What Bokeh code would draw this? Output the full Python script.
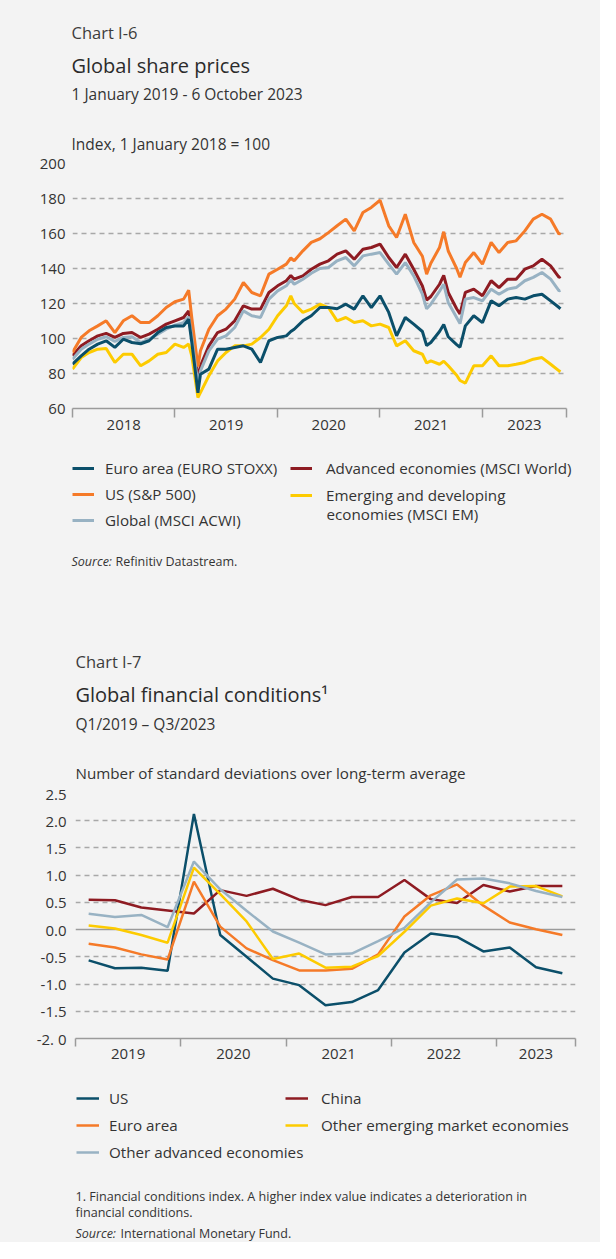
import pandas as pd
from bokeh.plotting import figure
from bokeh.models import Range1d, FixedTicker, Label, Legend, LegendItem, Grid
from bokeh.layouts import column
from bokeh.embed import file_html
from bokeh.resources import INLINE

FONT = "Open Sans"
BG = "#f3f3f3"
TXT = "#333333"
AXC = "#9b9b9b"
GRIDC = "#a8a8a8"

C_TEAL = "#0b4f6a"
C_ORANGE = "#f57a28"
C_RED = "#8e1b22"
C_GRAY = "#98b2c3"
C_YELLOW = "#fdcb00"

W = 600

# ---------------- Chart I-6 data (index, 1 Jan 2018 = 100) ----------------
dates = [
    "2019-01-01", "2019-02-01", "2019-03-01", "2019-04-01", "2019-05-01", "2019-06-01",
    "2019-07-01", "2019-08-01", "2019-09-01", "2019-10-01", "2019-11-01", "2019-12-01",
    "2020-01-01", "2020-02-01", "2020-02-19", "2020-03-01", "2020-03-23", "2020-04-01",
    "2020-05-01", "2020-06-01", "2020-07-01", "2020-08-01", "2020-09-01", "2020-10-01",
    "2020-11-01", "2020-12-01", "2021-01-01", "2021-02-01", "2021-02-17", "2021-03-01",
    "2021-04-01", "2021-05-01", "2021-06-01", "2021-07-01", "2021-08-01", "2021-09-01",
    "2021-10-01", "2021-11-01", "2021-12-01", "2022-01-01", "2022-02-01", "2022-03-01",
    "2022-04-01", "2022-05-01", "2022-06-01", "2022-06-16", "2022-07-01", "2022-08-01",
    "2022-08-16", "2022-09-01", "2022-10-01", "2022-10-13", "2022-11-01", "2022-12-01",
    "2023-01-01", "2023-02-01", "2023-03-01", "2023-04-01", "2023-05-01", "2023-06-01",
    "2023-07-01", "2023-08-01", "2023-09-01", "2023-10-01", "2023-10-06",
]
us_sp500 = [
    92.0, 100.6, 104.4, 107.2, 110.1, 103.4, 110.1, 113.0, 109.1, 109.1, 113.0, 117.7,
    121.0, 122.5, 127.6, 112.0, 84.0, 93.0, 105.3, 113.0, 116.8, 122.5, 132.0, 126.3,
    124.4, 136.8, 139.6, 142.5, 146.0, 144.4, 150.1, 154.9, 157.0, 160.5, 164.4, 168.2,
    161.5, 172.0, 174.9, 179.0, 164.4, 157.7, 171.0, 154.9, 147.0, 136.8, 143.0, 152.0,
    161.0, 150.0, 140.0, 135.0, 143.4, 149.1, 142.5, 154.9, 149.1, 154.9, 155.8, 161.5,
    168.2, 171.0, 168.2, 159.6, 160.5,
]
adv_world = [
    90.1, 95.8, 98.7, 101.5, 102.9, 100.6, 102.9, 103.4, 100.6, 102.5, 105.3, 108.2,
    110.1, 112.0, 115.8, 104.0, 77.0, 84.4, 95.8, 103.4, 105.3, 110.1, 118.7, 116.8,
    116.8, 126.3, 130.1, 133.0, 136.0, 133.9, 135.8, 139.6, 142.5, 144.4, 148.2, 150.1,
    145.3, 151.0, 152.0, 153.9, 146.3, 140.6, 148.2, 139.6, 130.0, 122.0, 124.0, 131.0,
    136.0, 126.3, 117.0, 114.0, 126.3, 128.2, 124.4, 133.0, 129.1, 133.9, 133.9, 139.6,
    141.5, 145.3, 141.5, 134.9, 135.5,
]
global_acwi = [
    88.2, 93.9, 96.8, 99.6, 101.0, 98.3, 100.6, 101.0, 97.7, 99.6, 102.5, 105.3,
    107.6, 109.1, 112.4, 101.0, 73.5, 81.5, 92.9, 99.6, 101.5, 106.3, 115.8, 113.0,
    112.0, 122.5, 127.2, 130.1, 133.5, 131.0, 133.9, 137.3, 140.0, 140.6, 144.4, 146.3,
    141.5, 147.2, 148.2, 149.1, 142.5, 136.8, 143.4, 135.8, 125.3, 117.0, 119.6, 127.0,
    131.0, 120.6, 112.0, 108.5, 122.5, 123.4, 121.5, 128.2, 125.3, 128.2, 129.1, 133.0,
    134.9, 137.7, 133.9, 127.2, 127.5,
]
euro_stoxx = [
    85.3, 90.1, 93.9, 96.8, 98.7, 94.9, 99.6, 97.7, 97.0, 98.7, 103.4, 106.3,
    107.2, 107.2, 111.0, 98.0, 69.0, 79.6, 82.5, 93.9, 93.9, 94.9, 95.8, 93.9,
    86.3, 98.7, 100.6, 101.5, 104.0, 105.3, 110.1, 113.0, 117.7, 117.7, 117.0, 119.6,
    116.8, 124.4, 117.7, 124.4, 114.9, 101.5, 112.0, 108.2, 104.0, 96.0, 97.7, 104.0,
    108.0, 101.0, 96.5, 95.0, 107.2, 113.0, 109.1, 121.5, 118.7, 122.5, 123.4, 122.5,
    124.4, 125.3, 121.5, 117.7, 117.0,
]
emerging_em = [
    82.5, 89.1, 92.0, 93.9, 94.3, 86.3, 91.0, 91.0, 84.4, 87.2, 91.0, 92.0,
    96.8, 94.9, 96.8, 90.1, 66.3, 69.1, 78.7, 87.2, 92.0, 95.8, 95.8, 96.8,
    100.6, 105.3, 113.0, 118.7, 124.4, 120.0, 114.9, 116.8, 119.6, 117.7, 110.1, 112.0,
    109.1, 110.1, 107.2, 108.2, 106.3, 95.8, 98.7, 93.0, 91.0, 86.0, 87.2, 85.3,
    87.0, 84.4, 79.0, 76.0, 74.5, 84.4, 84.4, 90.1, 84.4, 84.4, 85.3, 86.3,
    88.2, 89.1, 85.3, 81.5, 81.0,
]
year_labels_1 = ["2018", "2019", "2020", "2021", "2023"]
year_bounds_1 = [0.0, 1.0, 2.0, 3.0, 4.0, 4.82]   # years since 1 January 2019
y_ticks_1 = [60, 80, 100, 120, 140, 160, 180, 200]

# ---------------- Chart I-7 data (standard deviations) ----------------
quarters = [
    "Q1 2019", "Q2 2019", "Q3 2019", "Q4 2019", "Q1 2020", "Q2 2020", "Q3 2020", "Q4 2020",
    "Q1 2021", "Q2 2021", "Q3 2021", "Q4 2021", "Q1 2022", "Q2 2022", "Q3 2022", "Q4 2022",
    "Q1 2023", "Q2 2023", "Q3 2023",
]
fci_us = [-0.565, -0.71, -0.70, -0.755, 2.125, -0.10, -0.50, -0.90, -1.02, -1.39,
          -1.33, -1.11, -0.42, -0.07, -0.135, -0.40, -0.33, -0.69, -0.80]
fci_euro = [-0.26, -0.33, -0.455, -0.55, 0.88, 0.055, -0.345, -0.56, -0.75, -0.75,
            -0.72, -0.455, 0.24, 0.63, 0.83, 0.44, 0.13, 0.006, -0.10]
fci_other_adv = [0.29, 0.23, 0.27, 0.045, 1.25, 0.74, 0.345, -0.035, -0.24, -0.455,
                 -0.44, -0.21, 0.03, 0.50, 0.92, 0.94, 0.85, 0.71, 0.60]
fci_china = [0.55, 0.54, 0.405, 0.35, 0.295, 0.725, 0.62, 0.75, 0.55, 0.45,
             0.60, 0.60, 0.91, 0.56, 0.49, 0.82, 0.70, 0.80, 0.80]
fci_other_em = [0.075, 0.02, -0.10, -0.24, 1.14, 0.65, 0.15, -0.54, -0.44, -0.70,
                -0.68, -0.485, -0.04, 0.44, 0.57, 0.485, 0.79, 0.80, 0.61]
year_labels_2 = ["2019", "2020", "2021", "2022", "2023"]
year_bounds_2 = [0, 4, 8, 12, 16, 19]   # quarter boundaries
y_ticks_2 = [-2.0, -1.5, -1.0, -0.5, 0.0, 0.5, 1.0, 1.5, 2.0, 2.5]
y_labels_2 = ["-2. 0", "-1.5", "-1.0", "-0.5", "0.0", "0.5", "1.0", "1.5", "2.0", "2.5"]


# ---------------- helpers ----------------
def text_panel(h):
    """A figure whose frame is the whole canvas; y measured downward in px."""
    f = figure(width=W, height=h, x_range=Range1d(0, W), y_range=Range1d(h, 0),
               x_axis_location=None, y_axis_location=None,
               output_backend="svg", toolbar_location=None, frame_align=False,
               min_border_left=0, min_border_right=0, min_border_top=0, min_border_bottom=0,
               background_fill_color=BG, border_fill_color=BG)
    f.grid.visible = False
    f.outline_line_color = None
    return f


def add_text(f, text, x, y, size, color=TXT, style="normal"):
    f.add_layout(Label(x=x, y=y, text=text, text_font=FONT, text_font_size=f"{size}px",
                       text_color=color, text_font_style=style,
                       text_align="left", text_baseline="middle"))


def make_legend(items, loc, glyph_w, standoff, spacing):
    return Legend(items=items, location=loc, orientation="vertical",
                  glyph_width=glyph_w, glyph_height=20, label_height=20,
                  label_standoff=standoff, spacing=spacing, padding=0, margin=0,
                  label_text_font=FONT, label_text_font_size="15.2px", label_text_color=TXT,
                  background_fill_alpha=0, border_line_alpha=0)


def key(f, color, width):
    # legend key renderer: a single point, so nothing is drawn in the panel itself
    return f.line([-50], [-50], line_color=color, line_width=width)


def style_axes(p, mids, labels, bounds, tick_len, standoff_x, yticks, ylabels, standoff_y):
    xa = p.xaxis[0]
    xa.ticker = FixedTicker(ticks=mids, minor_ticks=bounds)
    xa.major_label_overrides = {m: l for m, l in zip(mids, labels)}
    xa.major_tick_in = 0
    xa.major_tick_out = 0
    xa.minor_tick_in = 0
    xa.minor_tick_out = tick_len
    xa.minor_tick_line_color = AXC
    xa.minor_tick_line_width = 1.5
    xa.axis_line_color = AXC
    xa.axis_line_width = 1.5
    xa.major_label_text_font = FONT
    xa.major_label_text_font_size = "15px"
    xa.major_label_text_color = TXT
    xa.major_label_standoff = standoff_x
    ya = p.yaxis[0]
    ya.ticker = FixedTicker(ticks=yticks)
    ya.major_label_overrides = {v: l for v, l in zip(yticks, ylabels)}
    ya.axis_line_color = None
    ya.major_tick_line_color = None
    ya.minor_tick_line_color = None
    ya.major_tick_in = 0
    ya.major_tick_out = 0
    ya.major_label_text_font = FONT
    ya.major_label_text_font_size = "15px"
    ya.major_label_text_color = TXT
    ya.major_label_standoff = standoff_y
    p.xgrid.visible = False
    p.outline_line_color = None


def unit_title(p, text, offset, standoff, size):
    t = p.title
    t.text = text
    t.align = "left"
    t.offset = offset
    t.standoff = standoff
    t.text_font = FONT
    t.text_font_size = f"{size}px"
    t.text_font_style = "normal"
    t.text_color = TXT


# ======================= Chart I-6 =======================
h1 = text_panel(115)
add_text(h1, "Chart I-6", 71, 32, 16.5, "#3c3c3c")
add_text(h1, "Global share prices", 71, 65, 20, "#2b2b2b")
add_text(h1, "1 January 2019 - 6 October 2023", 71, 93, 15.5)

t_years = [(pd.Timestamp(d) - pd.Timestamp("2019-01-01")).days / 365.25 for d in dates]
mids1 = [round((a + b) / 2, 3) for a, b in zip(year_bounds_1[:-1], year_bounds_1[1:])]

p1 = figure(width=W, height=327, x_range=Range1d(year_bounds_1[0], year_bounds_1[-1]),
            y_range=Range1d(y_ticks_1[0], y_ticks_1[-1]),
            output_backend="svg", toolbar_location=None, frame_align=False,
            min_border_left=72, min_border_right=34, min_border_top=48, min_border_bottom=34,
            background_fill_color=BG, border_fill_color=BG)
unit_title(p1, "Index, 1 January 2018 = 100", -1, 17, 15.5)
style_axes(p1, mids1, year_labels_1, year_bounds_1, 9, 2,
           y_ticks_1, [str(v) for v in y_ticks_1], 7)
p1.ygrid.ticker = FixedTicker(ticks=y_ticks_1[1:])
p1.ygrid.grid_line_color = GRIDC
p1.ygrid.grid_line_dash = "5 4"
p1.ygrid.grid_line_width = 1.3

p1.line(t_years, adv_world, line_color=C_RED, line_width=3)
p1.line(t_years, us_sp500, line_color=C_ORANGE, line_width=3)
p1.line(t_years, global_acwi, line_color=C_GRAY, line_width=3)
p1.line(t_years, emerging_em, line_color=C_YELLOW, line_width=3)
p1.line(t_years, euro_stoxx, line_color=C_TEAL, line_width=3)

f1 = text_panel(170)
k_eu = key(f1, C_TEAL, 3)
k_us = key(f1, C_ORANGE, 3)
k_gl = key(f1, C_GRAY, 3)
k_adv = key(f1, C_RED, 3)
k_em = key(f1, C_YELLOW, 3)
f1.add_layout(make_legend([LegendItem(label="Euro area (EURO STOXX)", renderers=[k_eu]),
                           LegendItem(label="US (S&P 500)", renderers=[k_us]),
                           LegendItem(label="Global (MSCI ACWI)", renderers=[k_gl])],
                          (72, 82), 22, 11, 6), "center")
f1.add_layout(make_legend([LegendItem(label="Advanced economies (MSCI World)", renderers=[k_adv]),
                           LegendItem(label="Emerging and developing", renderers=[k_em])],
                          (290, 107), 22, 14, 7), "center")
add_text(f1, "economies (MSCI EM)", 326, 71, 15.2)
add_text(f1, "Source:", 71, 119, 12.5, style="italic")
add_text(f1, "Refinitiv Datastream.", 115, 119, 12.5)

# ======================= Chart I-7 =======================
h2 = text_panel(129)
add_text(h2, "Chart I-7", 75, 49, 16.5, "#3c3c3c")
add_text(h2, "Global financial conditions\u00b9", 75, 82, 20, "#2b2b2b")
add_text(h2, "Q1/2019 \u2013 Q3/2023", 75, 111, 15.5)

xq = [i + 0.5 for i in range(len(quarters))]
mids2 = [(a + b) / 2 for a, b in zip(year_bounds_2[:-1], year_bounds_2[1:])]

p2 = figure(width=W, height=331, x_range=Range1d(year_bounds_2[0], year_bounds_2[-1]),
            y_range=Range1d(y_ticks_2[0], y_ticks_2[-1]),
            output_backend="svg", toolbar_location=None, frame_align=False,
            min_border_left=75, min_border_right=25, min_border_top=52, min_border_bottom=34,
            background_fill_color=BG, border_fill_color=BG)
unit_title(p2, "Number of standard deviations over long-term average", 0, 22, 15.2)
style_axes(p2, mids2, year_labels_2, year_bounds_2, 8, 2, y_ticks_2, y_labels_2, 9)
p2.ygrid.ticker = FixedTicker(ticks=[v for v in y_ticks_2 if v not in (0.0, -2.0)])
p2.ygrid.grid_line_color = GRIDC
p2.ygrid.grid_line_dash = "5 4"
p2.ygrid.grid_line_width = 1.3
p2.add_layout(Grid(dimension=1, ticker=FixedTicker(ticks=[0.0]), grid_line_color=AXC,
                   grid_line_width=1.5))

p2.line(xq, fci_us, line_color=C_TEAL, line_width=2.5)
p2.line(xq, fci_china, line_color=C_RED, line_width=2.5)
p2.line(xq, fci_euro, line_color=C_ORANGE, line_width=2.5)
p2.line(xq, fci_other_em, line_color=C_YELLOW, line_width=2.5)
p2.line(xq, fci_other_adv, line_color=C_GRAY, line_width=2.5)

f2 = text_panel(170)
j_us = key(f2, C_TEAL, 2.5)
j_eu = key(f2, C_ORANGE, 2.5)
j_oa = key(f2, C_GRAY, 2.5)
j_cn = key(f2, C_RED, 2.5)
j_em = key(f2, C_YELLOW, 2.5)
f2.add_layout(make_legend([LegendItem(label="US", renderers=[j_us]),
                           LegendItem(label="Euro area", renderers=[j_eu]),
                           LegendItem(label="Other advanced economies", renderers=[j_oa])],
                          (76, 80), 23, 10, 7), "center")
f2.add_layout(make_legend([LegendItem(label="China", renderers=[j_cn]),
                           LegendItem(label="Other emerging market economies", renderers=[j_em])],
                          (285, 107), 23, 13, 7), "center")
add_text(f2, "1. Financial conditions index. A higher index value indicates a deterioration in",
         75, 124, 12.6)
add_text(f2, "financial conditions.", 75, 140, 12.6)
add_text(f2, "Source:", 75, 161, 12.5, style="italic")
add_text(f2, "International Monetary Fund.", 120, 161, 12.5)

layout = column(h1, p1, f1, h2, p2, f2, spacing=0, styles={"background-color": BG})
open("out.html", "w").write(file_html(layout, INLINE))
